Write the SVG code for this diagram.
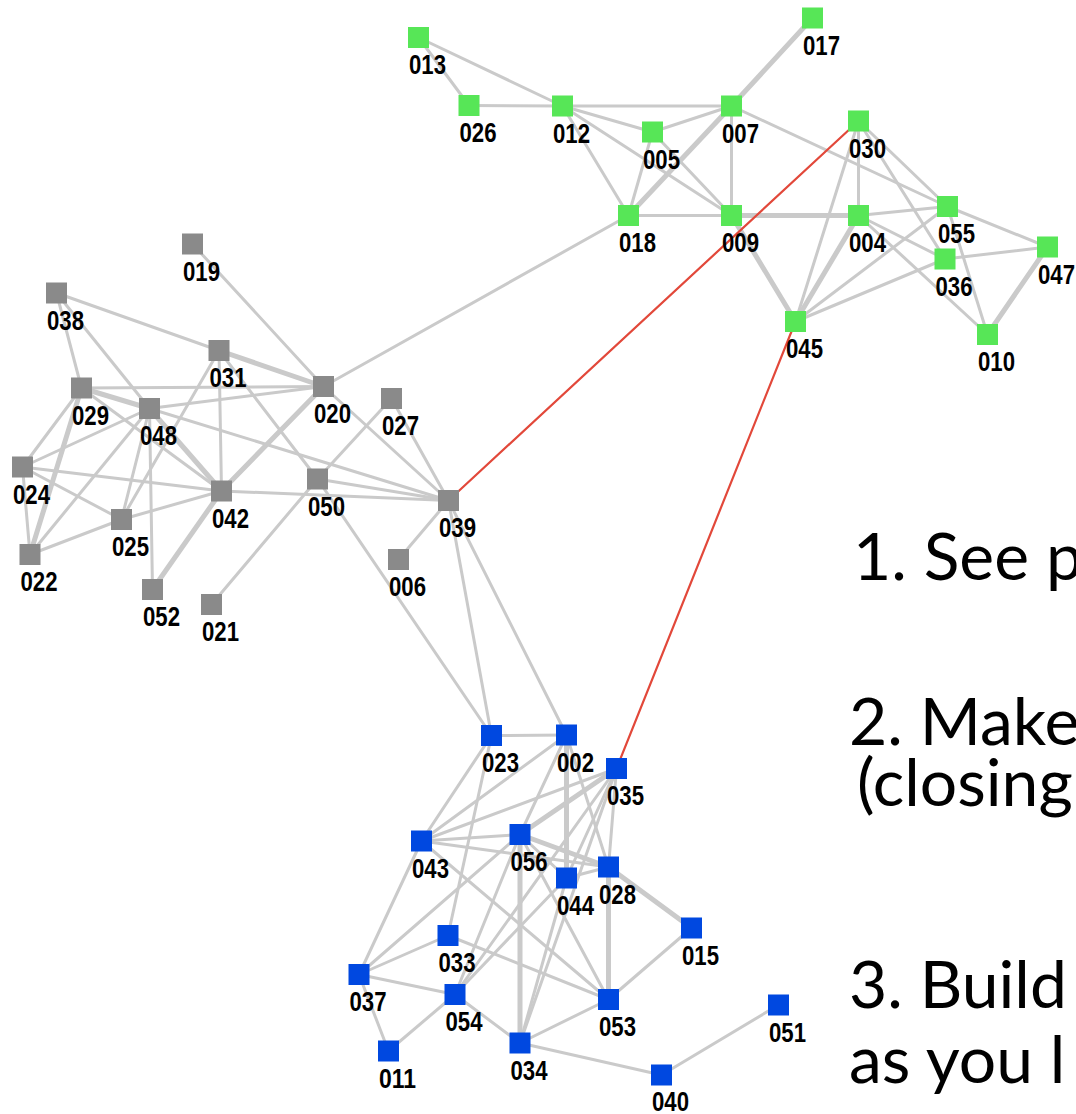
<svg xmlns="http://www.w3.org/2000/svg" width="1076" height="1114" viewBox="0 0 1076 1114">
<style>
.e{stroke:#cacaca;stroke-width:3;stroke-linecap:round}
.t{stroke-width:5}
.r{stroke:#e2483a;stroke-width:2.2}
.g rect{fill:#57e657}
.k rect{fill:#8a8a8a}
.b rect{fill:#0048e0}
text.l{font-family:"Liberation Sans",Arial,sans-serif;font-weight:bold;font-size:27px;fill:#000}
text.s{font-family:Lato,"Noto Sans",sans-serif;font-size:66px;fill:#000}
</style>
<rect width="1076" height="1114" fill="#fff"/>
<g id="connectors">
<line class="e" x1="418.5" y1="37.5" x2="469" y2="105.5"/>
<line class="e" x1="418.5" y1="37.5" x2="562.5" y2="106"/>
<line class="e" x1="469" y1="105.5" x2="562.5" y2="106"/>
<line class="e" x1="562.5" y1="106" x2="731.5" y2="106"/>
<line class="e" x1="562.5" y1="106" x2="652.5" y2="132"/>
<line class="e" x1="562.5" y1="106" x2="628.5" y2="215.5"/>
<line class="e" x1="562.5" y1="106" x2="731.5" y2="215.5"/>
<line class="e" x1="652.5" y1="132" x2="731.5" y2="106"/>
<line class="e" x1="652.5" y1="132" x2="628.5" y2="215.5"/>
<line class="e" x1="652.5" y1="132" x2="731.5" y2="215.5"/>
<line class="e t" x1="731.5" y1="106" x2="628.5" y2="215.5"/>
<line class="e" x1="731.5" y1="106" x2="731.5" y2="215.5"/>
<line class="e t" x1="731.5" y1="106" x2="812.5" y2="18"/>
<line class="e" x1="731.5" y1="106" x2="947.5" y2="206.5"/>
<line class="e" x1="628.5" y1="215.5" x2="731.5" y2="215.5"/>
<line class="e" x1="628.5" y1="215.5" x2="323.5" y2="386.5"/>
<line class="e t" x1="731.5" y1="215.5" x2="858.5" y2="215.5"/>
<line class="e t" x1="731.5" y1="215.5" x2="795.5" y2="321.5"/>
<line class="e" x1="858.5" y1="121" x2="858.5" y2="215.5"/>
<line class="e" x1="858.5" y1="121" x2="795.5" y2="321.5"/>
<line class="e" x1="858.5" y1="121" x2="947.5" y2="206.5"/>
<line class="e" x1="858.5" y1="121" x2="945" y2="259"/>
<line class="e" x1="858.5" y1="215.5" x2="947.5" y2="206.5"/>
<line class="e" x1="858.5" y1="215.5" x2="945" y2="259"/>
<line class="e" x1="858.5" y1="215.5" x2="987.5" y2="334.5"/>
<line class="e t" x1="858.5" y1="215.5" x2="795.5" y2="321.5"/>
<line class="e" x1="947.5" y1="206.5" x2="795.5" y2="321.5"/>
<line class="e" x1="947.5" y1="206.5" x2="1047.5" y2="247"/>
<line class="e" x1="947.5" y1="206.5" x2="987.5" y2="334.5"/>
<line class="e" x1="945" y1="259" x2="795.5" y2="321.5"/>
<line class="e" x1="945" y1="259" x2="1047.5" y2="247"/>
<line class="e t" x1="1047.5" y1="247" x2="987.5" y2="334.5"/>

<line class="e" x1="192.5" y1="244" x2="323.5" y2="386.5"/>
<line class="e" x1="56.5" y1="293" x2="81.5" y2="388"/>
<line class="e" x1="56.5" y1="293" x2="149.5" y2="408.5"/>
<line class="e" x1="56.5" y1="293" x2="219" y2="350.5"/>
<line class="e t" x1="219" y1="350.5" x2="323.5" y2="386.5"/>
<line class="e" x1="219" y1="350.5" x2="221.5" y2="491"/>
<line class="e" x1="219" y1="350.5" x2="121.5" y2="519.5"/>
<line class="e" x1="219" y1="350.5" x2="317.5" y2="479"/>
<line class="e t" x1="81.5" y1="388" x2="149.5" y2="408.5"/>
<line class="e" x1="81.5" y1="388" x2="323.5" y2="386.5"/>
<line class="e" x1="81.5" y1="388" x2="221.5" y2="491"/>
<line class="e" x1="81.5" y1="388" x2="22.5" y2="467"/>
<line class="e t" x1="81.5" y1="388" x2="30" y2="554.5"/>
<line class="e" x1="149.5" y1="408.5" x2="323.5" y2="386.5"/>
<line class="e t" x1="149.5" y1="408.5" x2="221.5" y2="491"/>
<line class="e" x1="149.5" y1="408.5" x2="448.5" y2="500.5"/>
<line class="e" x1="149.5" y1="408.5" x2="121.5" y2="519.5"/>
<line class="e" x1="149.5" y1="408.5" x2="152.5" y2="589.5"/>
<line class="e" x1="149.5" y1="408.5" x2="22.5" y2="467"/>
<line class="e" x1="149.5" y1="408.5" x2="30" y2="554.5"/>
<line class="e" x1="22.5" y1="467" x2="30" y2="554.5"/>
<line class="e" x1="22.5" y1="467" x2="221.5" y2="491"/>
<line class="e" x1="22.5" y1="467" x2="121.5" y2="519.5"/>
<line class="e" x1="121.5" y1="519.5" x2="221.5" y2="491"/>
<line class="e" x1="30" y1="554.5" x2="121.5" y2="519.5"/>
<line class="e t" x1="221.5" y1="491" x2="323.5" y2="386.5"/>
<line class="e" x1="221.5" y1="491" x2="448.5" y2="500.5"/>
<line class="e t" x1="221.5" y1="491" x2="152.5" y2="589.5"/>
<line class="e" x1="211.5" y1="604.5" x2="317.5" y2="479"/>
<line class="e" x1="317.5" y1="479" x2="448.5" y2="500.5"/>
<line class="e" x1="317.5" y1="479" x2="391.5" y2="398.5"/>
<line class="e" x1="317.5" y1="479" x2="491.5" y2="735.5"/>
<line class="e" x1="323.5" y1="386.5" x2="448.5" y2="500.5"/>
<line class="e" x1="391.5" y1="398.5" x2="448.5" y2="500.5"/>
<line class="e" x1="398.5" y1="559.5" x2="448.5" y2="500.5"/>
<line class="e" x1="448.5" y1="500.5" x2="491.5" y2="735.5"/>
<line class="e" x1="448.5" y1="500.5" x2="566.5" y2="735"/>

<line class="e" x1="491.5" y1="735.5" x2="566.5" y2="735"/>
<line class="e" x1="491.5" y1="735.5" x2="421.5" y2="841"/>
<line class="e" x1="491.5" y1="735.5" x2="448" y2="935.5"/>
<line class="e" x1="566.5" y1="735" x2="421.5" y2="841"/>
<line class="e" x1="566.5" y1="735" x2="520" y2="834.5"/>
<line class="e t" x1="566.5" y1="735" x2="566.5" y2="878"/>
<line class="e" x1="566.5" y1="735" x2="608.5" y2="867"/>
<line class="e" x1="616.5" y1="768.5" x2="421.5" y2="841"/>
<line class="e t" x1="616.5" y1="768.5" x2="520" y2="834.5"/>
<line class="e" x1="616.5" y1="768.5" x2="566.5" y2="878"/>
<line class="e" x1="616.5" y1="768.5" x2="608.5" y2="867"/>
<line class="e" x1="616.5" y1="768.5" x2="455" y2="994.5"/>
<line class="e" x1="616.5" y1="768.5" x2="520" y2="1043"/>
<line class="e" x1="421.5" y1="841" x2="520" y2="834.5"/>
<line class="e" x1="421.5" y1="841" x2="608.5" y2="867"/>
<line class="e" x1="421.5" y1="841" x2="359" y2="974.5"/>
<line class="e" x1="421.5" y1="841" x2="608.5" y2="999.5"/>
<line class="e" x1="520" y1="834.5" x2="566.5" y2="878"/>
<line class="e t" x1="520" y1="834.5" x2="608.5" y2="867"/>
<line class="e t" x1="520" y1="834.5" x2="520" y2="1043"/>
<line class="e" x1="520" y1="834.5" x2="608.5" y2="999.5"/>
<line class="e" x1="520" y1="834.5" x2="455" y2="994.5"/>
<line class="e" x1="520" y1="834.5" x2="359" y2="974.5"/>
<line class="e" x1="566.5" y1="878" x2="608.5" y2="867"/>
<line class="e" x1="566.5" y1="878" x2="455" y2="994.5"/>
<line class="e" x1="566.5" y1="878" x2="520" y2="1043"/>
<line class="e t" x1="608.5" y1="867" x2="608.5" y2="999.5"/>
<line class="e t" x1="608.5" y1="867" x2="691.5" y2="928"/>
<line class="e" x1="448" y1="935.5" x2="608.5" y2="999.5"/>
<line class="e" x1="455" y1="994.5" x2="520" y2="1043"/>
<line class="e" x1="455" y1="994.5" x2="359" y2="974.5"/>
<line class="e" x1="455" y1="994.5" x2="388.5" y2="1051"/>
<line class="e" x1="359" y1="974.5" x2="388.5" y2="1051"/>
<line class="e" x1="359" y1="974.5" x2="448" y2="935.5"/>
<line class="e" x1="520" y1="1043" x2="608.5" y2="999.5"/>
<line class="e" x1="520" y1="1043" x2="661.5" y2="1075"/>
<line class="e" x1="661.5" y1="1075" x2="778.5" y2="1005"/>
<line class="e" x1="608.5" y1="999.5" x2="691.5" y2="928"/>

<line class="e r" x1="448.5" y1="500.5" x2="858.5" y2="121"/>
<line class="e r" x1="795.5" y1="321.5" x2="616.5" y2="768.5"/>
</g>

<g id="n013" class="g"><rect x="408" y="27" width="21" height="21"/><text class="l" x="409" y="74" textLength="37" lengthAdjust="spacingAndGlyphs">013</text></g>
<g id="n026" class="g"><rect x="458.5" y="95" width="21" height="21"/><text class="l" x="459.5" y="142" textLength="37" lengthAdjust="spacingAndGlyphs">026</text></g>
<g id="n012" class="g"><rect x="552" y="95.5" width="21" height="21"/><text class="l" x="553" y="142.5" textLength="37" lengthAdjust="spacingAndGlyphs">012</text></g>
<g id="n005" class="g"><rect x="642" y="121.5" width="21" height="21"/><text class="l" x="643" y="168.5" textLength="37" lengthAdjust="spacingAndGlyphs">005</text></g>
<g id="n007" class="g"><rect x="721" y="95.5" width="21" height="21"/><text class="l" x="722" y="142.5" textLength="37" lengthAdjust="spacingAndGlyphs">007</text></g>
<g id="n017" class="g"><rect x="802" y="7.5" width="21" height="21"/><text class="l" x="803" y="54.5" textLength="37" lengthAdjust="spacingAndGlyphs">017</text></g>
<g id="n018" class="g"><rect x="618" y="205" width="21" height="21"/><text class="l" x="619" y="252" textLength="37" lengthAdjust="spacingAndGlyphs">018</text></g>
<g id="n009" class="g"><rect x="721" y="205" width="21" height="21"/><text class="l" x="722" y="252" textLength="37" lengthAdjust="spacingAndGlyphs">009</text></g>
<g id="n030" class="g"><rect x="848" y="110.5" width="21" height="21"/><text class="l" x="849" y="157.5" textLength="37" lengthAdjust="spacingAndGlyphs">030</text></g>
<g id="n004" class="g"><rect x="848" y="205" width="21" height="21"/><text class="l" x="849" y="252" textLength="37" lengthAdjust="spacingAndGlyphs">004</text></g>
<g id="n055" class="g"><rect x="937" y="196" width="21" height="21"/><text class="l" x="938" y="243" textLength="37" lengthAdjust="spacingAndGlyphs">055</text></g>
<g id="n036" class="g"><rect x="934.5" y="248.5" width="21" height="21"/><text class="l" x="935.5" y="295.5" textLength="37" lengthAdjust="spacingAndGlyphs">036</text></g>
<g id="n047" class="g"><rect x="1037" y="236.5" width="21" height="21"/><text class="l" x="1038" y="283.5" textLength="37" lengthAdjust="spacingAndGlyphs">047</text></g>
<g id="n045" class="g"><rect x="785" y="311" width="21" height="21"/><text class="l" x="786" y="358" textLength="37" lengthAdjust="spacingAndGlyphs">045</text></g>
<g id="n010" class="g"><rect x="977" y="324" width="21" height="21"/><text class="l" x="978" y="371" textLength="37" lengthAdjust="spacingAndGlyphs">010</text></g>

<g id="n019" class="k"><rect x="182" y="233.5" width="21" height="21"/><text class="l" x="183" y="280.5" textLength="37" lengthAdjust="spacingAndGlyphs">019</text></g>
<g id="n038" class="k"><rect x="46" y="282.5" width="21" height="21"/><text class="l" x="47" y="329.5" textLength="37" lengthAdjust="spacingAndGlyphs">038</text></g>
<g id="n031" class="k"><rect x="208.5" y="340" width="21" height="21"/><text class="l" x="209.5" y="387" textLength="37" lengthAdjust="spacingAndGlyphs">031</text></g>
<g id="n029" class="k"><rect x="71" y="377.5" width="21" height="21"/><text class="l" x="72" y="424.5" textLength="37" lengthAdjust="spacingAndGlyphs">029</text></g>
<g id="n048" class="k"><rect x="139" y="398" width="21" height="21"/><text class="l" x="140" y="445" textLength="37" lengthAdjust="spacingAndGlyphs">048</text></g>
<g id="n020" class="k"><rect x="313" y="376" width="21" height="21"/><text class="l" x="314" y="423" textLength="37" lengthAdjust="spacingAndGlyphs">020</text></g>
<g id="n027" class="k"><rect x="381" y="388" width="21" height="21"/><text class="l" x="382" y="435" textLength="37" lengthAdjust="spacingAndGlyphs">027</text></g>
<g id="n024" class="k"><rect x="12" y="456.5" width="21" height="21"/><text class="l" x="13" y="503.5" textLength="37" lengthAdjust="spacingAndGlyphs">024</text></g>
<g id="n042" class="k"><rect x="211" y="480.5" width="21" height="21"/><text class="l" x="212" y="527.5" textLength="37" lengthAdjust="spacingAndGlyphs">042</text></g>
<g id="n050" class="k"><rect x="307" y="468.5" width="21" height="21"/><text class="l" x="308" y="515.5" textLength="37" lengthAdjust="spacingAndGlyphs">050</text></g>
<g id="n039" class="k"><rect x="438" y="490" width="21" height="21"/><text class="l" x="439" y="537" textLength="37" lengthAdjust="spacingAndGlyphs">039</text></g>
<g id="n025" class="k"><rect x="111" y="509" width="21" height="21"/><text class="l" x="112" y="556" textLength="37" lengthAdjust="spacingAndGlyphs">025</text></g>
<g id="n022" class="k"><rect x="19.5" y="544" width="21" height="21"/><text class="l" x="20.5" y="591" textLength="37" lengthAdjust="spacingAndGlyphs">022</text></g>
<g id="n006" class="k"><rect x="388" y="549" width="21" height="21"/><text class="l" x="389" y="596" textLength="37" lengthAdjust="spacingAndGlyphs">006</text></g>
<g id="n052" class="k"><rect x="142" y="579" width="21" height="21"/><text class="l" x="143" y="626" textLength="37" lengthAdjust="spacingAndGlyphs">052</text></g>
<g id="n021" class="k"><rect x="201" y="594" width="21" height="21"/><text class="l" x="202" y="641" textLength="37" lengthAdjust="spacingAndGlyphs">021</text></g>

<g id="n023" class="b"><rect x="481" y="725" width="21" height="21"/><text class="l" x="482" y="772" textLength="37" lengthAdjust="spacingAndGlyphs">023</text></g>
<g id="n002" class="b"><rect x="556" y="724.5" width="21" height="21"/><text class="l" x="557" y="771.5" textLength="37" lengthAdjust="spacingAndGlyphs">002</text></g>
<g id="n035" class="b"><rect x="606" y="758" width="21" height="21"/><text class="l" x="607" y="805" textLength="37" lengthAdjust="spacingAndGlyphs">035</text></g>
<g id="n043" class="b"><rect x="411" y="830.5" width="21" height="21"/><text class="l" x="412" y="877.5" textLength="37" lengthAdjust="spacingAndGlyphs">043</text></g>
<g id="n056" class="b"><rect x="509.5" y="824" width="21" height="21"/><text class="l" x="510.5" y="871" textLength="37" lengthAdjust="spacingAndGlyphs">056</text></g>
<g id="n044" class="b"><rect x="556" y="867.5" width="21" height="21"/><text class="l" x="557" y="914.5" textLength="37" lengthAdjust="spacingAndGlyphs">044</text></g>
<g id="n028" class="b"><rect x="598" y="856.5" width="21" height="21"/><text class="l" x="599" y="903.5" textLength="37" lengthAdjust="spacingAndGlyphs">028</text></g>
<g id="n015" class="b"><rect x="681" y="917.5" width="21" height="21"/><text class="l" x="682" y="964.5" textLength="37" lengthAdjust="spacingAndGlyphs">015</text></g>
<g id="n033" class="b"><rect x="437.5" y="925" width="21" height="21"/><text class="l" x="438.5" y="972" textLength="37" lengthAdjust="spacingAndGlyphs">033</text></g>
<g id="n037" class="b"><rect x="348.5" y="964" width="21" height="21"/><text class="l" x="349.5" y="1011" textLength="37" lengthAdjust="spacingAndGlyphs">037</text></g>
<g id="n054" class="b"><rect x="444.5" y="984" width="21" height="21"/><text class="l" x="445.5" y="1031" textLength="37" lengthAdjust="spacingAndGlyphs">054</text></g>
<g id="n053" class="b"><rect x="598" y="989" width="21" height="21"/><text class="l" x="599" y="1036" textLength="37" lengthAdjust="spacingAndGlyphs">053</text></g>
<g id="n034" class="b"><rect x="509.5" y="1032.5" width="21" height="21"/><text class="l" x="510.5" y="1079.5" textLength="37" lengthAdjust="spacingAndGlyphs">034</text></g>
<g id="n011" class="b"><rect x="378" y="1040.5" width="21" height="21"/><text class="l" x="379" y="1087.5" textLength="37" lengthAdjust="spacingAndGlyphs">011</text></g>
<g id="n051" class="b"><rect x="768" y="994.5" width="21" height="21"/><text class="l" x="769" y="1041.5" textLength="37" lengthAdjust="spacingAndGlyphs">051</text></g>
<g id="n040" class="b"><rect x="651" y="1064.5" width="21" height="21"/><text class="l" x="652" y="1111" textLength="37" lengthAdjust="spacingAndGlyphs">040</text></g>

<g id="notes">
<text class="s" x="853" y="580">1. See p</text>
<text class="s" x="849" y="745">2. Make</text>
<text class="s" x="857" y="806">(closing</text>
<text class="s" x="849" y="1008">3. Build</text>
<text class="s" x="849" y="1083">as you l</text>
</g>
</svg>
